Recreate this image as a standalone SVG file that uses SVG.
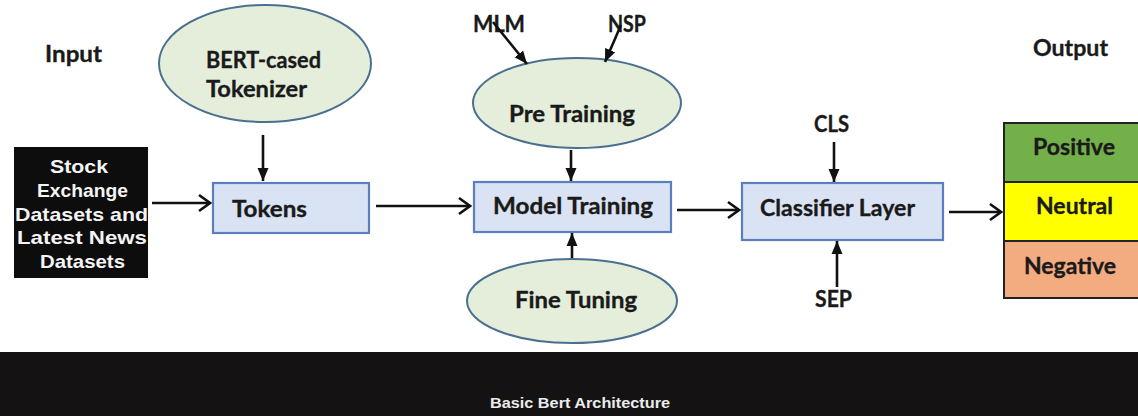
<svg xmlns="http://www.w3.org/2000/svg" width="1138" height="416" viewBox="0 0 1138 416">
<style>
.t{font-family:Lato,"Open Sans","Liberation Sans",sans-serif;font-weight:bold;font-size:23.5px;fill:#1a1a1a;stroke:#1a1a1a;stroke-width:0.35px;}
.w{font-family:"Liberation Sans",Arial,sans-serif;font-weight:bold;font-size:18.5px;fill:#f4f4f4;}
.ell{fill:#e4eedb;stroke:#4a6f8f;stroke-width:2;}
.box{fill:#dae3f3;stroke:#5a7fc0;stroke-width:2.2;}
.ln{stroke:#111;stroke-width:2.6;fill:none;}
.lt{marker-end:url(#tri);}
.lc{marker-end:url(#chev);}
</style>
<defs>
<marker id="tri" markerUnits="userSpaceOnUse" markerWidth="14" markerHeight="14" viewBox="0 0 14 14" refX="13" refY="7" orient="auto">
<path d="M0,1.5 L13,7 L0,12.5 Z" fill="#111"/>
</marker>
<marker id="chev" markerUnits="userSpaceOnUse" markerWidth="16" markerHeight="20" viewBox="0 0 16 20" refX="14" refY="10" orient="auto">
<path d="M3,2 L14,10 L3,18" fill="none" stroke="#111" stroke-width="2.6"/>
</marker>
</defs>
<rect x="0" y="0" width="1138" height="416" fill="#ffffff"/>

<g id="input-label"><text class="t" x="45" y="62" textLength="57" lengthAdjust="spacingAndGlyphs">Input</text></g>
<g id="output-label"><text class="t" x="1033" y="56" textLength="75" lengthAdjust="spacingAndGlyphs">Output</text></g>

<g id="datasets">
<rect x="14" y="147" width="134" height="131" fill="#0d0d0d"/>
<text class="w" x="50" y="173" textLength="58" lengthAdjust="spacingAndGlyphs">Stock</text>
<text class="w" x="37" y="197" textLength="91" lengthAdjust="spacingAndGlyphs">Exchange</text>
<text class="w" x="15" y="221" textLength="133" lengthAdjust="spacingAndGlyphs">Datasets and</text>
<text class="w" x="17" y="244" textLength="130" lengthAdjust="spacingAndGlyphs">Latest News</text>
<text class="w" x="40" y="268" textLength="85" lengthAdjust="spacingAndGlyphs">Datasets</text>
</g>

<g id="tokenizer">
<ellipse class="ell" cx="265" cy="63.5" rx="106" ry="58.5"/>
<text class="t" x="206" y="68" textLength="115" lengthAdjust="spacingAndGlyphs">BERT-cased</text>
<text class="t" x="206" y="97" textLength="101" lengthAdjust="spacingAndGlyphs">Tokenizer</text>
</g>

<g id="tokens">
<rect class="box" x="213" y="183" width="156" height="50"/>
<text class="t" x="232" y="217" textLength="75" lengthAdjust="spacingAndGlyphs">Tokens</text>
</g>

<g id="mlm"><text class="t" x="473" y="32" textLength="52" lengthAdjust="spacingAndGlyphs">MLM</text></g>
<g id="nsp"><text class="t" x="608" y="32" textLength="38" lengthAdjust="spacingAndGlyphs">NSP</text></g>

<g id="pre-training">
<ellipse class="ell" cx="577" cy="103" rx="104" ry="45"/>
<text class="t" x="509" y="122" textLength="126" lengthAdjust="spacingAndGlyphs">Pre Training</text>
</g>

<g id="model-training">
<rect class="box" x="474" y="182" width="197" height="50"/>
<text class="t" x="493" y="214" textLength="160" lengthAdjust="spacingAndGlyphs">Model Training</text>
</g>

<g id="fine-tuning">
<ellipse class="ell" cx="572" cy="301" rx="105" ry="42"/>
<text class="t" x="515" y="308" textLength="122" lengthAdjust="spacingAndGlyphs">Fine Tuning</text>
</g>

<g id="cls"><text class="t" x="814" y="132" textLength="35" lengthAdjust="spacingAndGlyphs">CLS</text></g>
<g id="sep"><text class="t" x="815" y="307" textLength="37" lengthAdjust="spacingAndGlyphs">SEP</text></g>

<g id="classifier-layer">
<rect class="box" x="742" y="183" width="201" height="57"/>
<text class="t" x="760" y="216" textLength="155" lengthAdjust="spacingAndGlyphs">Classifier Layer</text>
</g>

<g id="outputs">
<rect x="1004" y="123" width="140" height="59" fill="#74b04a" stroke="#222" stroke-width="2"/>
<rect x="1004" y="182" width="140" height="59" fill="#ffff00" stroke="#222" stroke-width="2"/>
<rect x="1004" y="241" width="140" height="57" fill="#f3ab80" stroke="#222" stroke-width="2"/>
<text class="t" x="1033" y="155" textLength="82" lengthAdjust="spacingAndGlyphs">Positive</text>
<text class="t" x="1036" y="214" textLength="77" lengthAdjust="spacingAndGlyphs">Neutral</text>
<text class="t" x="1024" y="274" textLength="92" lengthAdjust="spacingAndGlyphs">Negative</text>
</g>

<g id="connectors">
<line class="ln lc" x1="152" y1="203" x2="210" y2="203"/>
<line class="ln lc" x1="376" y1="206" x2="470" y2="206"/>
<line class="ln lc" x1="677" y1="210" x2="739" y2="210"/>
<line class="ln lc" x1="949" y1="212" x2="1001" y2="212"/>
<line class="ln lt" x1="263" y1="135" x2="263" y2="181"/>
<line class="ln lt" x1="571" y1="150" x2="571" y2="181"/>
<line class="ln lt" x1="572" y1="258" x2="572" y2="233"/>
<line class="ln lt" x1="834" y1="142" x2="834" y2="182"/>
<line class="ln lt" x1="837" y1="287" x2="837" y2="241"/>
<line class="ln lt" x1="493" y1="22" x2="527" y2="64"/>
<line class="ln lt" x1="621" y1="25" x2="605" y2="62"/>
</g>

<g id="caption">
<rect x="0" y="352" width="1138" height="64" fill="#141213"/>
<text x="490" y="408" textLength="180" lengthAdjust="spacingAndGlyphs" style="font-family:'Liberation Sans',Arial,sans-serif;font-weight:bold;font-size:15.5px;fill:#ececec;">Basic Bert Architecture</text>
</g>
</svg>
